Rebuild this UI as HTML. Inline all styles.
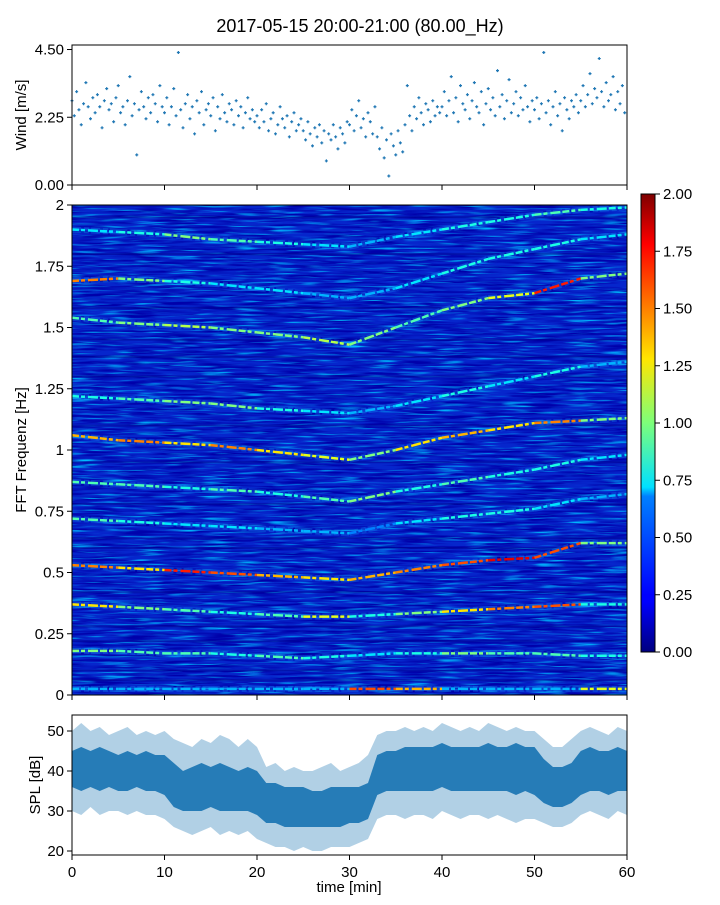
<!DOCTYPE html>
<html><head><meta charset="utf-8"><style>
body{margin:0;background:#fff;}
svg text{font-family:"Liberation Sans","DejaVu Sans",sans-serif;fill:#000;}
</style></head><body>
<svg id="fig" width="720" height="900" viewBox="0 0 720 900" xmlns="http://www.w3.org/2000/svg">
<text x="360" y="32" font-size="18" text-anchor="middle">2017-05-15 20:00-21:00 (80.00_Hz)</text>
<defs>
<linearGradient id="jet" x1="0" y1="1" x2="0" y2="0">
<stop offset="0" stop-color="#00007f"/><stop offset="0.11" stop-color="#0000ff"/><stop offset="0.125" stop-color="#0000ff"/>
<stop offset="0.34" stop-color="#0080ff"/><stop offset="0.36" stop-color="#00e0ff"/><stop offset="0.5" stop-color="#7dff7a"/>
<stop offset="0.64" stop-color="#ffe600"/><stop offset="0.75" stop-color="#ff8000"/><stop offset="0.89" stop-color="#ff0000"/><stop offset="1" stop-color="#7f0000"/>
</linearGradient>
<clipPath id="specClip"><rect x="72" y="205" width="555" height="490"/></clipPath>
<filter id="darkNoise" x="0" y="0" width="1" height="1">
<feTurbulence type="fractalNoise" baseFrequency="0.025 0.45" numOctaves="2" seed="3"/>
<feColorMatrix values="0 0 0 0 0  0 0 0 0 0  0 0 0 0 0.4  3 0 0 0 -1.15"/>
</filter>
<filter id="lightNoise" x="0" y="0" width="1" height="1">
<feTurbulence type="fractalNoise" baseFrequency="0.03 0.5" numOctaves="2" seed="11"/>
<feColorMatrix values="0 0 0 0 0  0 0 0 0 0.5  0 0 0 0 1  0 3 0 0 -1.6"/>
</filter>
</defs>
<g id="wind"></g>
<g id="spec"></g>
<g id="cbar"></g>
<g id="spl"></g>
</svg>
<script>
const windValues=[2.8,2.3,3.1,2.5,2.0,2.7,3.4,2.6,2.2,2.9,2.4,3.0,2.6,1.9,2.8,3.2,2.5,2.7,2.1,2.9,3.3,2.4,2.6,2.0,2.8,3.6,2.3,2.7,1.0,2.5,3.1,2.6,2.2,2.9,2.4,3.0,2.7,2.1,3.3,2.6,
2.4,2.9,2.0,2.6,3.2,2.3,4.4,2.5,1.9,2.7,3.0,2.2,2.6,1.7,2.8,2.4,3.1,2.0,2.5,2.7,2.3,2.9,1.8,2.6,2.2,3.0,2.4,2.1,2.7,2.5,2.0,2.8,2.3,2.6,1.9,2.4,2.9,2.2,2.5,2.1,
2.3,1.9,2.5,2.1,2.7,1.8,2.2,2.4,1.7,2.0,2.6,2.2,1.9,2.3,1.6,2.1,2.4,1.8,2.0,2.2,
1.8,1.5,2.1,1.7,1.3,1.9,1.6,2.0,1.4,1.8,0.8,1.7,1.5,2.0,1.6,1.2,1.9,1.7,1.4,2.1,
2.0,2.5,1.8,2.3,2.8,1.9,2.2,1.6,2.4,2.1,1.7,2.6,
1.6,1.2,1.9,0.9,1.5,0.3,1.7,1.3,1.0,1.8,1.4,1.1,
2.0,3.3,2.3,1.8,2.6,2.2,2.9,2.4,2.0,2.7,2.5,2.1,2.8,2.3,2.6,2.4,
2.6,3.1,2.3,2.8,3.6,2.4,2.9,2.1,3.3,2.7,2.5,3.0,2.2,2.8,3.4,2.6,2.4,3.1,2.0,2.7,3.2,2.5,2.9,2.3,3.8,2.6,3.0,2.2,2.8,3.5,2.4,2.7,3.1,2.3,2.9,2.5,3.3,2.6,2.1,2.8,
2.5,2.9,2.2,2.7,4.4,2.4,2.8,2.0,2.6,3.1,2.3,2.7,1.8,2.9,2.5,2.2,2.8,2.6,3.0,2.4,
2.8,3.3,2.6,3.0,3.7,2.7,3.2,2.9,4.2,3.1,2.6,3.4,2.8,3.0,3.6,2.5,3.1,2.7,3.3,2.4];
const windStep=0.25;
const windTicks=[0,2.25,4.5];
const windTickLabels=["0.00","2.25","4.50"];

const ridgeTimes=[0,5,10,15,20,25,30,35,40,45,50,55,60];
const ridgeFreqs=[
[0.18,0.18,0.17,0.17,0.16,0.15,0.16,0.17,0.17,0.17,0.17,0.16,0.16],
[0.37,0.36,0.35,0.34,0.33,0.32,0.32,0.33,0.34,0.35,0.36,0.37,0.37],
[0.53,0.52,0.51,0.50,0.49,0.48,0.47,0.50,0.53,0.55,0.56,0.62,0.62],
[0.72,0.71,0.70,0.69,0.68,0.67,0.66,0.70,0.72,0.74,0.76,0.80,0.82],
[0.87,0.86,0.85,0.84,0.83,0.81,0.79,0.83,0.86,0.89,0.92,0.96,0.98],
[1.06,1.04,1.03,1.02,1.00,0.98,0.96,1.00,1.05,1.08,1.11,1.12,1.13],
[1.22,1.21,1.20,1.19,1.17,1.16,1.15,1.18,1.22,1.26,1.30,1.34,1.36],
[1.54,1.52,1.51,1.50,1.48,1.46,1.43,1.50,1.57,1.62,1.64,1.70,1.72],
[1.69,1.70,1.69,1.68,1.66,1.64,1.62,1.66,1.72,1.78,1.82,1.86,1.88],
[1.90,1.89,1.88,1.86,1.85,1.84,1.83,1.87,1.90,1.93,1.96,1.98,1.99],
[0.025,0.025,0.025,0.025,0.025,0.025,0.025,0.025,0.025,0.025,0.025,0.025,0.025]];
const ridgeIntensity=[
[1.0,0.9,0.9,0.8,0.9,0.8,0.7,0.8,1.0,0.9,0.9,0.8,0.9],
[1.3,1.0,0.9,0.8,0.9,1.2,0.8,1.0,1.3,1.5,1.6,0.8,0.7],
[1.5,1.3,1.7,1.6,1.4,1.3,1.4,1.5,1.6,1.8,1.6,1.0,1.2],
[0.9,0.8,0.7,0.7,0.6,0.6,0.5,0.7,0.8,0.8,0.7,0.6,0.6],
[0.9,0.9,0.8,0.9,0.8,0.9,1.0,0.8,0.9,0.8,0.8,0.7,0.6],
[1.4,1.5,1.3,1.5,1.3,1.2,1.0,1.3,1.4,1.3,1.5,1.0,0.8],
[0.8,0.9,1.0,1.0,0.8,0.7,0.6,0.7,0.8,0.7,0.8,0.6,0.6],
[0.9,1.0,1.1,1.0,1.0,1.1,1.0,0.9,1.0,1.2,1.7,1.0,0.9],
[1.5,1.0,0.8,0.7,0.7,0.6,0.6,0.7,0.8,0.8,0.8,0.7,0.7],
[0.7,0.8,1.0,0.9,0.8,0.7,0.6,0.7,0.8,0.8,0.9,0.8,0.7],
[0.6,0.6,0.6,0.6,0.6,0.6,1.6,1.4,0.6,0.6,0.6,1.2,1.6]];
const darkBands=[0.06,0.1,0.22,0.28,0.42,0.6,0.64,0.78,0.95,1.1,1.3,1.38,1.45,1.58,1.8,1.95];
const specTicks=[0,0.25,0.5,0.75,1,1.25,1.5,1.75,2];
const specTickLabels=["0","0.25","0.5","0.75","1","1.25","1.5","1.75","2"];
const cbarTicks=[0,0.25,0.5,0.75,1,1.25,1.5,1.75,2];
const cbarTickLabels=["0.00","0.25","0.50","0.75","1.00","1.25","1.50","1.75","2.00"];

const splCoreHi=[45,46,45,46,45,44,45,44,45,44,44,42,40,41,42,41,42,41,40,41,40,37,37,36,36,36,35,35,36,36,36,36,37,44,45,45,46,46,46,46,47,46,46,46,46,47,46,46,47,46,46,43,41,41,42,45,46,45,45,46,45];
const splCoreLo=[36,35,36,35,36,35,35,36,35,35,34,31,30,30,30,31,30,30,30,30,29,27,27,26,26,26,26,26,26,26,27,27,28,34,35,35,35,35,35,35,36,35,35,35,35,35,35,35,34,35,34,32,31,31,32,34,35,35,34,35,35];
const splOuterHi=[50,52,50,51,49,50,51,49,50,49,50,48,47,46,48,47,49,48,46,48,46,41,42,40,41,40,40,41,42,40,41,42,44,49,50,50,51,50,51,50,52,51,50,51,50,52,51,50,51,50,50,48,46,46,48,50,51,50,49,51,50];
const splOuterLo=[30,29,31,29,30,30,29,30,29,29,28,26,25,24,25,26,24,25,24,25,23,22,21,21,20,21,20,20,21,21,21,22,23,28,29,29,28,29,29,28,30,29,28,29,29,28,29,28,27,28,28,27,26,26,27,29,30,29,28,30,29];
const splTicks=[20,30,40,50];
const xTicks=[0,10,20,30,40,50,60];

const NS="http://www.w3.org/2000/svg";
const X0=72,X1=627;
const xs=t=>X0+(t/60)*(X1-X0);
const yWind=v=>185-(v/4.65)*140;
const ySpec=f=>695-(f/2)*490;
const ySpl=v=>855-((v-19)/(54-19))*140;
const yCbar=v=>652-(v/2)*458;
function mk(tag,attrs,parent){const e=document.createElementNS(NS,tag);for(const k in attrs)e.setAttribute(k,attrs[k]);parent.appendChild(e);return e;}
function jet(v){let x=Math.max(0,Math.min(1,v/2));
 const r=Math.max(0,Math.min(1,1.5-Math.abs(4*x-3))),g=Math.max(0,Math.min(1,1.5-Math.abs(4*x-2))),b=Math.max(0,Math.min(1,1.5-Math.abs(4*x-1)));
 return `rgb(${Math.round(r*255)},${Math.round(g*255)},${Math.round(b*255)})`;}
function axisBox(g,y0,h,name){const r=mk('rect',{x:X0,y:y0,width:X1-X0,height:h,fill:'none',stroke:'#000','stroke-width':1},g);}
function yTick(g,y,label,name){const l=mk('line',{x1:X0-5,x2:X0,y1:y,y2:y,stroke:'#000'},g);
 const t=mk('text',{x:X0-8,y:y+5,'font-size':15,'text-anchor':'end'},g);t.textContent=label;}
function xTickMarks(g,yb,labels){xTicks.forEach(t=>{const l=mk('line',{x1:xs(t),x2:xs(t),y1:yb,y2:yb+5,stroke:'#000'},g);
 if(labels){const tx=mk('text',{x:xs(t),y:yb+22,'font-size':15,'text-anchor':'middle'},g);tx.textContent=String(t);}});}
function yTitle(g,x,y,txt,name){const t=mk('text',{x:x,y:y,'font-size':15,'text-anchor':'middle',transform:`rotate(-90 ${x} ${y})`},g);t.textContent=txt;}

// wind
const gw=document.getElementById('wind');
windValues.forEach((v,i)=>{const x=xs(i*windStep),y=yWind(v);
 const p=mk('path',{d:`M${x-1.5} ${y}H${x+1.5}M${x} ${y-1.5}V${y+1.5}`,stroke:'#1f77b4','stroke-width':1.2},gw);
 });
axisBox(gw,45,140,'wind-axes');
windTicks.forEach((v,i)=>yTick(gw,yWind(v),windTickLabels[i],'wind-y'));
xTickMarks(gw,185,false);
yTitle(gw,26,115,'Wind [m/s]','wind-y-axis-title');

// spectrogram
const gs=document.getElementById('spec');
const gc=mk('g',{'clip-path':'url(#specClip)'},gs);
mk('rect',{x:X0,y:205,width:555,height:490,fill:'#0626cc'},gc);
const dn=mk('rect',{x:X0,y:205,width:555,height:490,filter:'url(#darkNoise)'},gc);

const ln=mk('rect',{x:X0,y:205,width:555,height:490,filter:'url(#lightNoise)'},gc);

darkBands.forEach(f=>{const l=mk('line',{x1:X0,x2:X1,y1:ySpec(f),y2:ySpec(f),stroke:'#00008a','stroke-width':2,opacity:0.4},gc);});
ridgeFreqs.forEach((fr,r)=>{for(let i=0;i<ridgeTimes.length-1;i++){
 const a={x1:xs(ridgeTimes[i]),x2:xs(ridgeTimes[i+1]),y1:ySpec(fr[i]),y2:ySpec(fr[i+1])};
 const h=mk('line',Object.assign({stroke:'#1aa0ff','stroke-width':6,opacity:0.25,'stroke-dasharray':'9 3 5 2'},a),gc);
 const l=mk('line',Object.assign({stroke:jet(ridgeIntensity[r][i]),'stroke-width':2.5,'stroke-dasharray':'7 2 4 3 10 2'},a),gc);}});
axisBox(gs,205,490,'spectrogram-axes');
specTicks.forEach((v,i)=>yTick(gs,ySpec(v),specTickLabels[i],'spec-y'));
xTickMarks(gs,695,false);
yTitle(gs,26,450,'FFT Frequenz [Hz]','spec-y-axis-title');

// colorbar
const gb=document.getElementById('cbar');
const cr=mk('rect',{x:641,y:194,width:14,height:458,fill:'url(#jet)',stroke:'#000','stroke-width':1},gb);

cbarTicks.forEach((v,i)=>{const y=yCbar(v);const l=mk('line',{x1:655,x2:660,y1:y,y2:y,stroke:'#000'},gb);
 const t=mk('text',{x:663,y:y+5,'font-size':15},gb);t.textContent=cbarTickLabels[i];});

// spl
const gp=document.getElementById('spl');
function band(hi,lo,fill,op,name){let d='';hi.forEach((v,i)=>{d+=(i?'L':'M')+xs(i)+' '+ySpl(v);});
 for(let i=lo.length-1;i>=0;i--)d+='L'+xs(i)+' '+ySpl(lo[i]);d+='Z';
 const p=mk('path',{d:d,fill:fill,opacity:op},gp);}
band(splOuterHi,splOuterLo,'#1f77b4',0.35,'spl-outer-band');
band(splCoreHi,splCoreLo,'#1f77b4',0.95,'spl-core-band');
axisBox(gp,715,140,'spl-axes');
splTicks.forEach(v=>yTick(gp,ySpl(v),String(v),'spl-y'));
xTickMarks(gp,855,true);
yTitle(gp,40,785,'SPL [dB]','spl-y-axis-title');
const xt=mk('text',{x:349,y:892,'font-size':15,'text-anchor':'middle'},gp);xt.textContent='time [min]';


</script>
</body></html>
